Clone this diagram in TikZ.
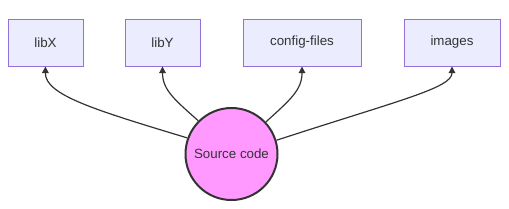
\documentclass[tikz,border=0pt]{standalone}
\usepackage{fontspec}
\setmainfont{Liberation Sans}
\usetikzlibrary{arrows.meta}
\definecolor{boxfill}{HTML}{ECECFF}
\definecolor{boxline}{HTML}{9370DB}
\definecolor{srcfill}{HTML}{FF99FF}
\definecolor{ink}{HTML}{333333}
\begin{document}
\begin{tikzpicture}[x=0.75pt, y=-0.75pt,
        box/.style={draw=boxline, fill=boxfill, line width=0.75pt, minimum height=35.25pt,
            inner sep=0pt, text=ink, font=\fontsize{10}{12}\selectfont},
        src/.style={circle, draw=ink, fill=srcfill, line width=1.5pt, minimum size=69pt,
            inner sep=0pt, text=ink, font=\fontsize{10}{12}\selectfont},
        link/.style={draw=ink, line width=0.9pt, -{Triangle[length=5pt, width=5pt]}}]
                \useasboundingbox (0,0) rectangle (509,208);

                % Target boxes
                \node[box, minimum width=56.25pt] (libx) at (45.5,42.5) {libX};
                \node[box, minimum width=56.25pt] (liby) at (162.5,42.5) {libY};
                \node[box, minimum width=88.5pt] (config) at (302,42.5) {config-files};
                \node[box, minimum width=72pt] (images) at (452,42.5) {images};

                % Source circle
                \node[src] (source) at (231.5,154) {Source code};

                % Links
                \draw[link] (source.160) .. controls (95,110) and (45,95) .. (libx.south);
                \draw[link] (source.135) .. controls (175,100) and (162.5,90) .. (liby.south);
                \draw[link] (source.43) .. controls (290,100) and (302,90) .. (config.south);
                \draw[link] (source.17) .. controls (400,100) and (452,88) .. (images.south);
            \end{tikzpicture}
\end{document}
